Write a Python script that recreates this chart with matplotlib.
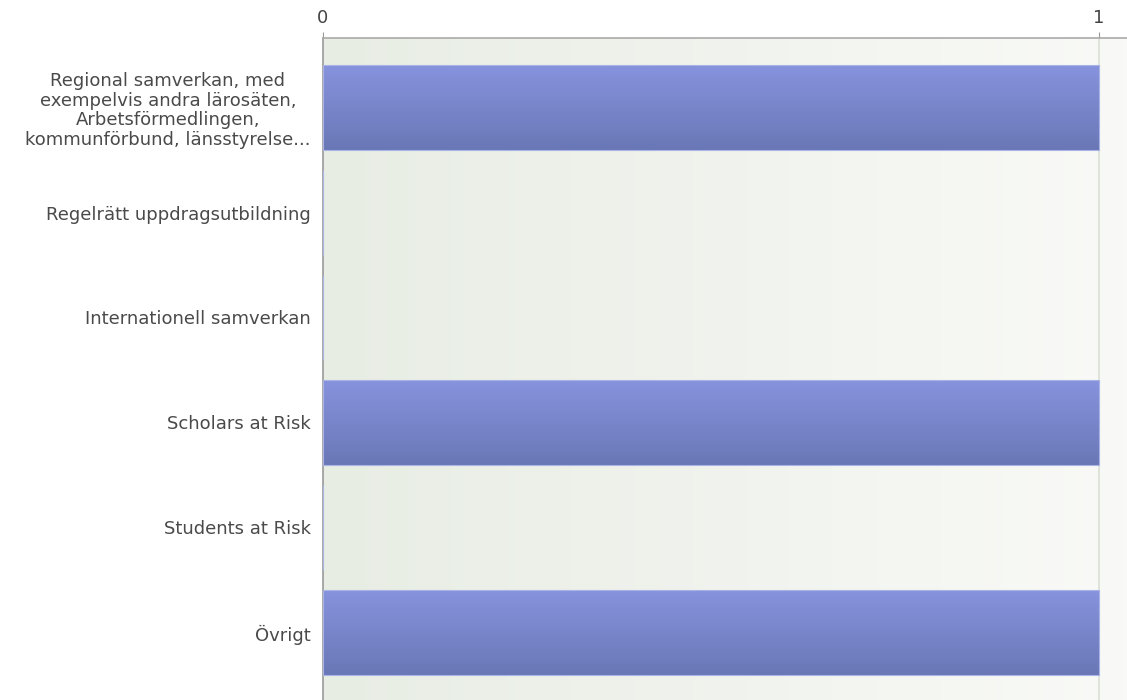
import numpy as np
import matplotlib.pyplot as plt
from matplotlib.colors import LinearSegmentedColormap

categories = [
    "Regional samverkan, med\nexempelvis andra lärosäten,\nArbetsförmedlingen,\nkommunförbund, länsstyrelse...",
    "Regelrätt uppdragsutbildning",
    "Internationell samverkan",
    "Scholars at Risk",
    "Students at Risk",
    "Övrigt",
]
values = [1, 0, 0, 1, 0, 1]
xticks = [0, 1]

plt.rcParams['font.family'] = ['DejaVu Sans']

fig = plt.figure(figsize=(11.27, 7), dpi=100)
ax = fig.add_axes([323 / 1127, 0, 1 - 323 / 1127, 1 - 38 / 700])

ypos = np.arange(len(categories))
ax.set_xlim(0, 1.036)
ax.set_ylim(5.643, -0.662)

# background gradient, left to right
bg = LinearSegmentedColormap.from_list('bg', ['#e8ede4', '#f9faf7'])
grad = np.linspace(0, 1, 256).reshape(1, -1)
ax.imshow(grad, cmap=bg, aspect='auto', extent=[0, 1.036, 5.643, -0.662], zorder=0)

# bars with vertical gradient
bar_cmap = LinearSegmentedColormap.from_list('bar', ['#8794de', '#6a77b6'])
bars = ax.barh(ypos, values, height=0.81, color='none', edgecolor='#a9b3e6', linewidth=0.8, zorder=3)
vgrad = np.linspace(0, 1, 256).reshape(-1, 1)
for b, v in zip(bars, values):
    if v <= 0:
        continue
    x0, y0 = b.get_x(), b.get_y()
    w, h = b.get_width(), b.get_height()
    im = ax.imshow(vgrad, cmap=bar_cmap, aspect='auto',
                   extent=[x0, x0 + w, y0 + h, y0], zorder=2)
    im.set_clip_path(b)
ax.set_xlim(0, 1.036)
ax.set_ylim(5.643, -0.662)

ax.axvline(1, color='#e0e3dc', linewidth=1.5, zorder=1)

ax.xaxis.tick_top()
ax.set_xticks(xticks)
ax.set_xticklabels([str(t) for t in xticks])
ax.tick_params(axis='x', length=4, color='#999999', labelcolor='#444444', labelsize=13, pad=4)
ax.set_yticks(ypos)
ax.set_yticklabels(categories, multialignment='center', linespacing=1.12)
ax.tick_params(axis='y', length=0, labelcolor='#4a4a4a', labelsize=13, pad=9)

for s in ['right', 'bottom']:
    ax.spines[s].set_visible(False)
ax.spines['left'].set_color('#999999')
ax.spines['top'].set_color('#aaaaaa')
ax.spines['left'].set_linewidth(1.2)
ax.spines['top'].set_linewidth(1.2)

fig.savefig('out.png', dpi=100)
